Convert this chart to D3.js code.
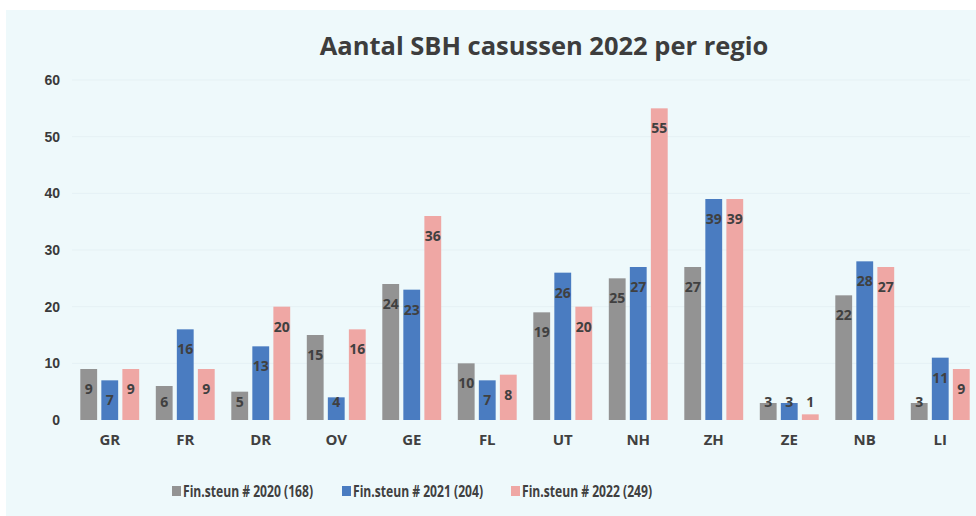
<!DOCTYPE html>
<html>
<head>
<meta charset="utf-8">
<script src="https://cdn.jsdelivr.net/npm/d3@7"></script>
<style>
  body { margin: 0; background: #ffffff; }
  svg { display: block; }
  text { font-family: "Open Sans", "DejaVu Sans", sans-serif; }
</style>
</head>
<body>
<script>
// data
const regions = ['GR', 'FR', 'DR', 'OV', 'GE', 'FL', 'UT', 'NH', 'ZH', 'ZE', 'NB', 'LI']
const steun2020 = [9, 6, 5, 15, 24, 10, 19, 25, 27, 3, 22, 3]
const steun2021 = [7, 16, 13, 4, 23, 7, 26, 27, 39, 3, 28, 11]
const steun2022 = [9, 9, 20, 16, 36, 8, 20, 55, 39, 1, 27, 9]
const seriesNames = ['Fin.steun # 2020 (168)', 'Fin.steun # 2021 (204)', 'Fin.steun # 2022 (249)']
const seriesColors = ['#939393', '#4a7cc1', '#efa7a4']
const yTicks = [0, 10, 20, 30, 40, 50, 60]

const W = 976, H = 516
const svg = d3.select('body').append('svg').attr('width', W).attr('height', H)

// chart background (scanned sheet look)
svg.append('rect').attr('x', 6).attr('y', 10).attr('width', W - 6).attr('height', H - 10)
    .attr('fill', '#eef9fb')

const x0 = d3.scaleBand().domain(regions).range([72, 978]).paddingInner(0.22).paddingOuter(0.11)
const series = [steun2020, steun2021, steun2022]
const x1 = d3.scaleBand().domain([0, 1, 2]).range([0, x0.bandwidth()]).paddingInner(0.2)
const y = d3.scaleLinear().domain([0, 60]).range([420, 80])

// light grid
svg.append('g')
    .selectAll('line')
    .data(yTicks.slice(1))
    .join('line')
    .attr('x1', 72).attr('x2', 970)
    .attr('y1', d => y(d)).attr('y2', d => y(d))
    .attr('stroke', '#e5f1f4').attr('stroke-width', 1)

// y axis labels
const yAxis = svg.append('g')
    .attr('transform', 'translate(60,0)')
    .call(d3.axisLeft(y).tickValues(yTicks).tickSize(0).tickPadding(0))
yAxis.select('.domain').remove()
yAxis.selectAll('text')
    .attr('fill', '#3a3a3a')
    .style('font-family', '"Liberation Sans", Arial, sans-serif')
    .style('font-weight', 'bold')
    .style('font-size', '14px')

// x axis labels
const xAxis = svg.append('g')
    .attr('transform', 'translate(0,430)')
    .call(d3.axisBottom(x0).tickSize(0).tickPadding(4))
xAxis.select('.domain').remove()
xAxis.selectAll('text')
    .attr('fill', '#404040')
    .style('font-weight', 'bold')
    .style('font-size', '15px')

// bars
const groups = svg.append('g')
    .selectAll('g')
    .data(regions)
    .join('g')
    .attr('transform', d => `translate(${x0(d)},0)`)

groups.selectAll('rect')
    .data((d, i) => series.map((s, k) => ({ k, v: s[i] })))
    .join('rect')
    .attr('x', d => x1(d.k))
    .attr('width', x1.bandwidth())
    .attr('y', d => y(d.v))
    .attr('height', d => y(0) - y(d.v))
    .attr('fill', d => seriesColors[d.k])

groups.selectAll('text')
    .data((d, i) => series.map((s, k) => ({ k, v: s[i] })))
    .join('text')
    .attr('x', d => x1(d.k) + x1.bandwidth() / 2)
    .attr('y', d => Math.min(y(d.v) + 20, y(0) - 18))
    .attr('dy', '0.35em')
    .attr('text-anchor', 'middle')
    .attr('fill', '#404040')
    .style('font-weight', 'bold')
    .style('font-size', '14px')
    .text(d => d.v)

// title
svg.append('text')
    .attr('x', 544).attr('y', 46)
    .attr('dy', '0.35em')
    .attr('text-anchor', 'middle')
    .attr('fill', '#3d3d3d')
    .style('font-weight', 'bold')
    .style('font-size', '25.5px')
    .text('Aantal SBH casussen 2022 per regio')

// legend (narrow face like the original, squeezed to its width)
const legendX = [172, 342, 511]
const legend = svg.append('g')
    .selectAll('g')
    .data(seriesNames)
    .join('g')
    .attr('transform', (d, i) => `translate(${legendX[i]},491)`)
legend.append('rect')
    .attr('x', 0).attr('y', -5).attr('width', 9).attr('height', 10)
    .attr('fill', (d, i) => seriesColors[i])
legend.append('text')
    .attr('x', 11).attr('dy', '0.35em')
    .attr('fill', '#404040')
    .attr('textLength', 130)
    .attr('lengthAdjust', 'spacingAndGlyphs')
    .style('font-weight', 'bold')
    .style('font-size', '16px')
    .text(d => d)
</script>
</body>
</html>
